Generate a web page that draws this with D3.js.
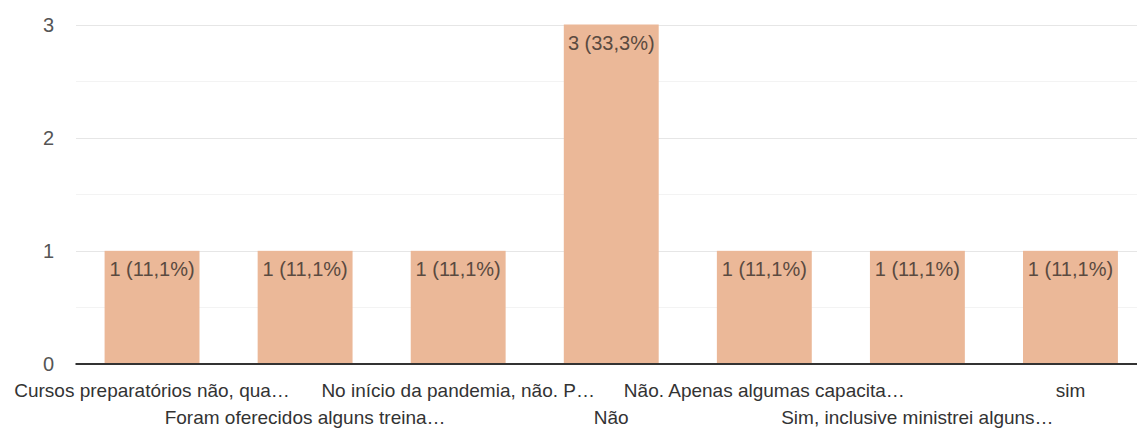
<!DOCTYPE html>
<html><head><meta charset="utf-8">
<script src="https://cdn.jsdelivr.net/npm/d3@7"></script>
<style>
html,body{margin:0;padding:0;background:#fff;overflow:hidden;}
svg{display:block;}
text{font-family:"Liberation Sans",Arial,sans-serif;}
</style></head>
<body>
<svg id="chart" width="1137" height="432"></svg>
<script>
const categories = [
  "Cursos preparatórios não, qua…",
  "Foram oferecidos alguns treina…",
  "No início da pandemia, não. P…",
  "Não",
  "Não. Apenas algumas capacita…",
  "Sim, inclusive ministrei alguns…",
  "sim"
];
const counts = [1, 1, 1, 3, 1, 1, 1];
const valueLabels = ["1 (11,1%)", "1 (11,1%)", "1 (11,1%)", "3 (33,3%)", "1 (11,1%)", "1 (11,1%)", "1 (11,1%)"];
const yTicks = [0, 1, 2, 3];
const yMinorTicks = [0.5, 1.5, 2.5];

const svg = d3.select("#chart");
const W = 1137, H = 432;
const mLeft = 75.5, mRight = 1147, mTop = 24.5, mBottom = 364;

const x = d3.scaleBand().domain(categories).range([mLeft, mRight]).paddingInner(0.38).paddingOuter(0.19);
const y = d3.scaleLinear().domain([0, 3]).range([mBottom, mTop]);

// minor gridlines
svg.append("g").selectAll("line").data(yMinorTicks).join("line")
  .attr("x1", 76).attr("x2", W)
  .attr("y1", d => Math.round(y(d)) + 0.5).attr("y2", d => Math.round(y(d)) + 0.5)
  .attr("stroke", "#f3f3f3").attr("stroke-width", 1);
// major gridlines
svg.append("g").selectAll("line").data(yTicks.filter(d => d > 0)).join("line")
  .attr("x1", 76).attr("x2", W)
  .attr("y1", d => Math.round(y(d)) + 0.5).attr("y2", d => Math.round(y(d)) + 0.5)
  .attr("stroke", "#e6e6e6").attr("stroke-width", 1);

// y tick labels
svg.append("g").selectAll("text").data(yTicks).join("text")
  .attr("x", 54).attr("y", d => y(d))
  .attr("dy", "0.35em")
  .attr("text-anchor", "end")
  .attr("font-size", 20)
  .attr("fill", "#555")
  .text(d => d);

// bars
svg.append("g").selectAll("rect").data(counts).join("rect")
  .attr("x", (d, i) => x(categories[i]))
  .attr("width", x.bandwidth())
  .attr("y", d => y(d))
  .attr("height", d => y(0) - y(d))
  .attr("fill", "#ebb898");

// value labels
svg.append("g").selectAll("text").data(counts).join("text")
  .attr("x", (d, i) => x(categories[i]) + x.bandwidth() / 2)
  .attr("y", d => y(d) + 25.5)
  .attr("text-anchor", "middle")
  .attr("font-size", 20)
  .attr("fill", "#5a4a40")
  .text((d, i) => valueLabels[i]);

// baseline
svg.append("line")
  .attr("x1", mLeft).attr("x2", W)
  .attr("y1", mBottom).attr("y2", mBottom)
  .attr("stroke", "#333").attr("stroke-width", 2);

// x labels, alternating rows
svg.append("g").selectAll("text").data(categories).join("text")
  .attr("x", d => x(d) + x.bandwidth() / 2)
  .attr("y", (d, i) => i % 2 === 0 ? 396.5 : 424)
  .attr("text-anchor", "middle")
  .attr("font-size", 19)
  .attr("fill", "#333")
  .text(d => d);
</script>
</body></html>
